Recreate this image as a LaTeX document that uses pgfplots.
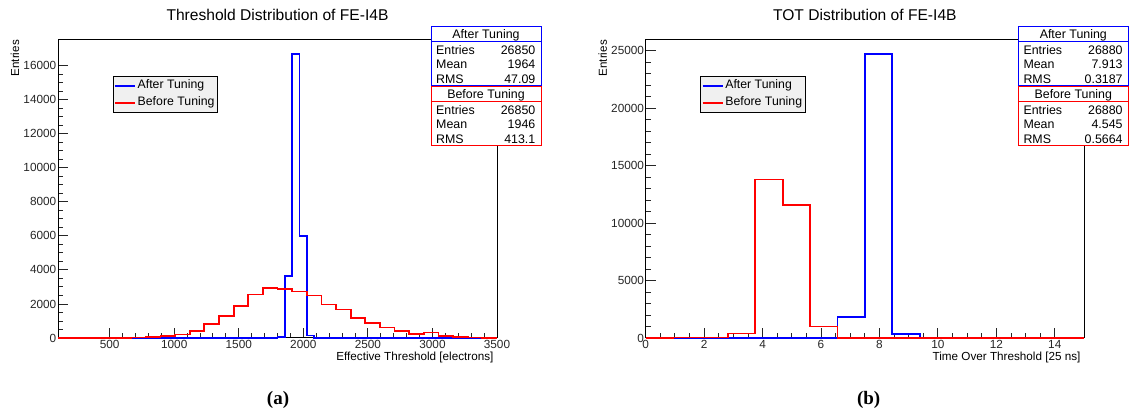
\documentclass[border=0pt]{standalone}
\usepackage{fontspec}
\setmainfont{Liberation Sans}
\newfontfamily\capfont{Liberation Serif}
\usepackage{pgfplots}
\pgfplotsset{compat=1.18}
\usetikzlibrary{calc}
\definecolor{rootblue}{RGB}{0,0,255}
\definecolor{rootred}{RGB}{255,0,0}
\definecolor{legfill}{RGB}{240,240,240}

\pgfplotsset{
  scale only axis,
  height=298pt,
  clip=false,
  axis line style={line width=1pt},
  tick pos=left,
  tick align=inside,
  major tick length=10pt,
  minor tick length=5pt,
  every tick/.style={black!85, line width=0.9pt},
  scaled ticks=false,
  /pgf/number format/1000 sep={},
  /pgf/number format/assume math mode=true,
  tick label style={font=\fontsize{11.8}{13}\selectfont, text=black!85},
  yticklabel style={inner sep=1.5pt},
  xticklabel style={inner sep=2.5pt},
  ymin=0,
  legend cell align=left,
  legend image code/.code={\draw[#1, line width=1.6pt] (0pt,0pt) -- (20pt,0pt);},
  legend style={draw=black, fill=legfill, line width=0.8pt,
    font=\fontsize{12.3}{14}\selectfont, anchor=north west,
    inner xsep=1pt, inner ysep=1pt, row sep=0pt,
    nodes={inner sep=2pt, text height=9.5pt, text depth=3.5pt}},
  roothist/.style={const plot mark left, line width=1.8pt, mark=none},
}

\newcommand{\statbox}[8]{% x, ytop, colour, title, entries, mean, rms, height
  \fill[white] (#1,#2) rectangle ++(110,#8);
  \draw[#3, line width=1pt] (#1,#2) rectangle ++(110,#8);
  \draw[#3, line width=1pt] (#1,#2+14.7) -- ++(110,0);
  \node[anchor=base, inner sep=0pt] at (#1+55,#2+11.8) {#4};
  \node[anchor=base west, inner sep=0pt] at (#1+5,#2+27.8) {Entries};
  \node[anchor=base east, inner sep=0pt] at (#1+104.5,#2+27.8) {#5};
  \node[anchor=base west, inner sep=0pt] at (#1+5,#2+42.3) {Mean};
  \node[anchor=base east, inner sep=0pt] at (#1+104.5,#2+42.3) {#6};
  \node[anchor=base west, inner sep=0pt] at (#1+5,#2+56.8) {RMS};
  \node[anchor=base east, inner sep=0pt] at (#1+104.5,#2+56.8) {#7};
}

\begin{document}
\begin{tikzpicture}
\useasboundingbox (0,0) rectangle (1130pt,417pt);

% ---------------- (a) threshold ----------------
\begin{axis}[at={(58pt,79pt)}, anchor=south west, width=439pt,
  xmin=100, xmax=3500, ymax=17510,
  xtick={500,1000,...,3500}, ytick={0,2000,...,16000},
  minor x tick num=4, minor y tick num=3,
  legend style={at={(0.1246,0.879)}}]
\addplot[roothist, rootblue] coordinates {
 (100,0) (1743.33,10) (1800,60) (1856.67,3650) (1913.33,16700) (1970,6000)
 (2026.67,150) (2083.33,20) (2140,0) (3500,0)};
\addlegendentry{After Tuning}
\addplot[roothist, rootred] coordinates {
 (100,0) (213.33,0) (326.67,5) (440,10) (553.33,15) (666.67,25) (780,60)
 (893.33,100) (1006.67,200) (1120,410) (1233.33,800) (1346.67,1310)
 (1460,1900) (1573.33,2550) (1686.67,2950) (1800,2870) (1913.33,2730)
 (2026.67,2500) (2140,1970) (2253.33,1680) (2366.67,1190) (2480,860)
 (2593.33,620) (2706.67,420) (2820,240) (2933.33,320) (3046.67,100)
 (3160,60) (3273.33,30) (3386.67,20) (3500,20)};
\addlegendentry{Before Tuning}
\node[font=\fontsize{15.6}{18}\selectfont] at ($(rel axis cs:0.5,1)+(0pt,25pt)$) {Threshold Distribution of FE-I4B};
\node[font=\fontsize{11.7}{13}\selectfont, anchor=base east] at ($(rel axis cs:1,0)+(0pt,-22.5pt)$) {Effective Threshold [electrons]};
\node[font=\fontsize{11.6}{13}\selectfont, rotate=90, anchor=east, inner sep=0pt] at ($(rel axis cs:0,1)+(-43pt,0pt)$) {Entries};
\end{axis}

% ---------------- (b) TOT ----------------
\begin{axis}[at={(645.7pt,79pt)}, anchor=south west, width=438.3pt,
  xmin=0, xmax=15, ymax=25933,
  xtick={0,2,...,14}, ytick={0,5000,...,25000},
  minor x tick num=3, minor y tick num=4,
  legend style={at={(0.1246,0.879)}}]
\addplot[roothist, rootblue] coordinates {
 (0,0) (6.5625,1860) (7.5,24700) (8.4375,320) (9.375,0) (15,0)};
\addlegendentry{After Tuning}
\addplot[roothist, rootred] coordinates {
 (0,0) (0.9375,40) (1.875,40) (2.8125,400) (3.75,13800) (4.6875,11600)
 (5.625,1000) (6.5625,0) (15,0)};
\addlegendentry{Before Tuning}
\node[font=\fontsize{15.6}{18}\selectfont] at ($(rel axis cs:0.5,1)+(0pt,25pt)$) {TOT Distribution of FE-I4B};
\node[font=\fontsize{11.7}{13}\selectfont, anchor=base east] at ($(rel axis cs:1,0)+(0pt,-22.5pt)$) {Time Over Threshold [25 ns]};
\node[font=\fontsize{11.6}{13}\selectfont, rotate=90, anchor=east, inner sep=0pt] at ($(rel axis cs:0,1)+(-43pt,0pt)$) {Entries};
\end{axis}

% ---------------- stats boxes and captions (image coordinates) ----------------
\begin{scope}[shift={(0,417pt)}, x=1pt, y=-1pt, font=\fontsize{12.4}{14}\selectfont]
\statbox{431}{26.7}{rootblue}{After Tuning}{26850}{1964}{47.09}{59.3}
\statbox{431}{86.5}{rootred}{Before Tuning}{26850}{1946}{413.1}{59.5}
\statbox{1018.3}{26.7}{rootblue}{After Tuning}{26880}{7.913}{0.3187}{59.3}
\statbox{1018.3}{86.5}{rootred}{Before Tuning}{26880}{4.545}{0.5664}{59.5}
\node[font=\capfont\bfseries\fontsize{19}{22}\selectfont] at (278,399.5) {(a)};
\node[font=\capfont\bfseries\fontsize{19}{22}\selectfont] at (868.7,399.5) {(b)};
\end{scope}
\end{tikzpicture}
\end{document}
